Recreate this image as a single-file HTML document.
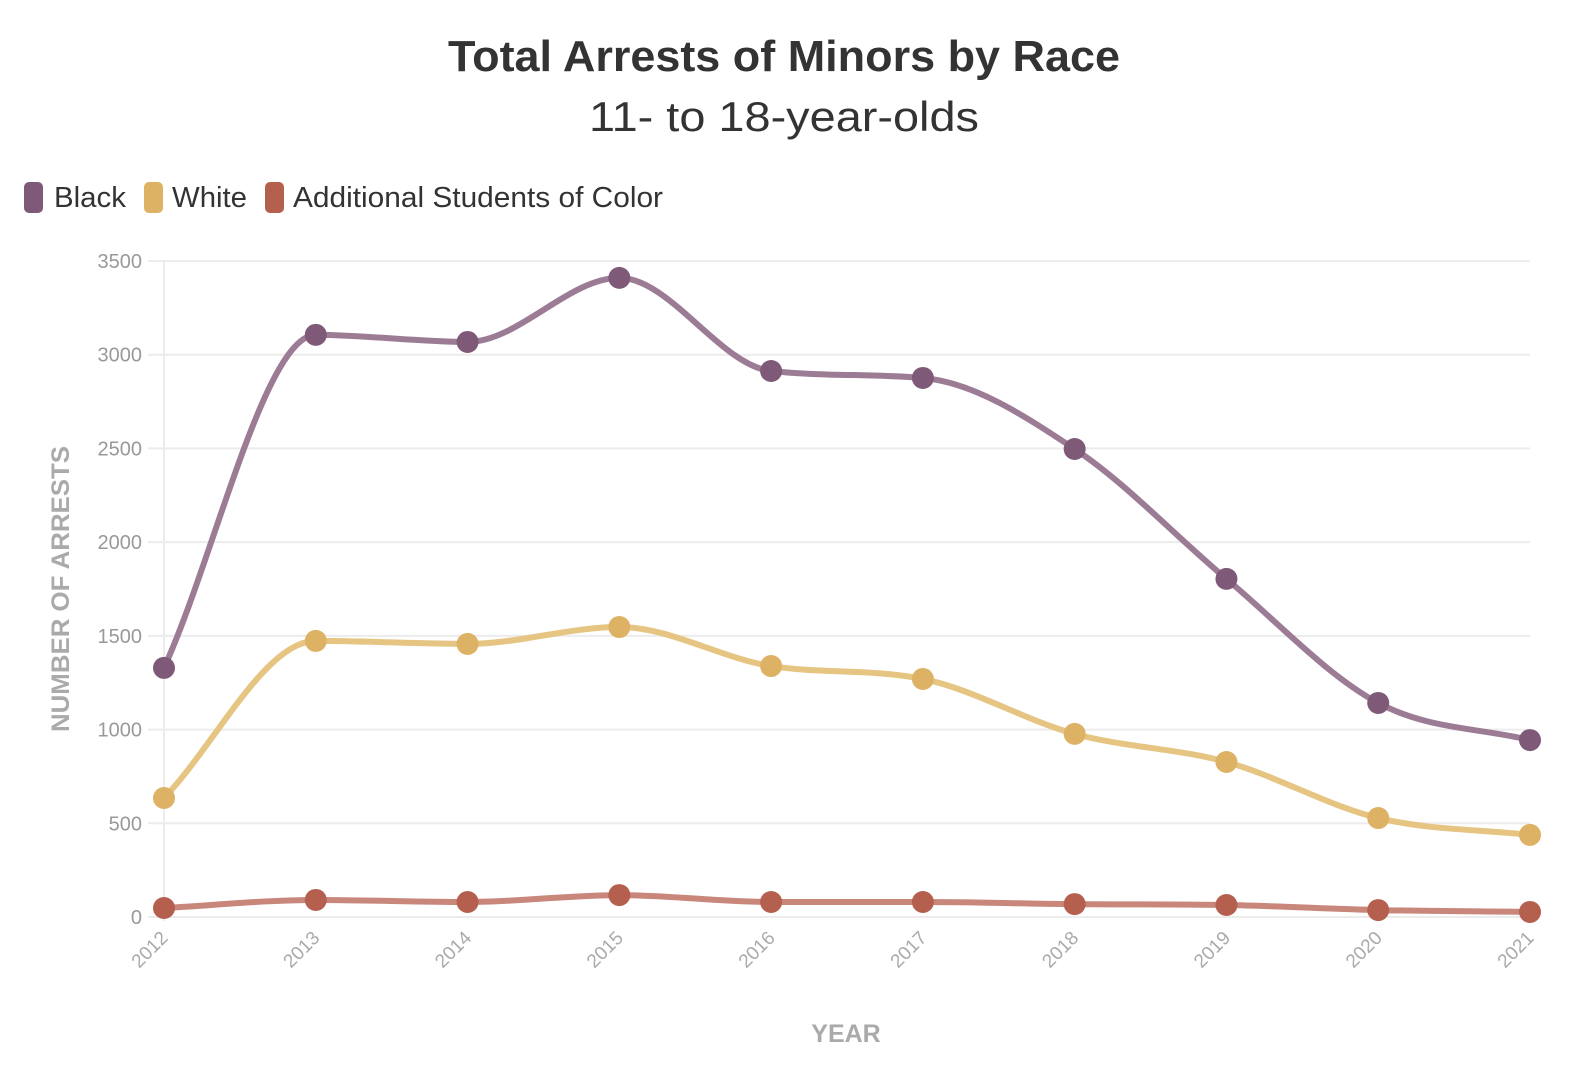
<!DOCTYPE html>
<html><head><meta charset="utf-8">
<style>
html,body{margin:0;padding:0;background:#fff;}
svg{display:block;font-family:"Liberation Sans",sans-serif;}
</style></head>
<body>
<svg id="chart" width="1592" height="1082" viewBox="0 0 1592 1082">
<text x="784" y="71" text-anchor="middle" font-size="44" font-weight="bold" fill="#333" textLength="672" lengthAdjust="spacingAndGlyphs">Total Arrests of Minors by Race</text>
<text x="784" y="131" text-anchor="middle" font-size="42" fill="#333" textLength="390" lengthAdjust="spacingAndGlyphs">11- to 18-year-olds</text>
<g>
<g><rect x="24" y="182" width="19" height="31" rx="5" fill="#7f5a78"/><text x="54" y="207" font-size="29" fill="#333" textLength="72" lengthAdjust="spacingAndGlyphs">Black</text></g>
<g><rect x="144" y="182" width="19" height="31" rx="5" fill="#deb264"/><text x="172" y="207" font-size="29" fill="#333" textLength="75" lengthAdjust="spacingAndGlyphs">White</text></g>
<g><rect x="265" y="182" width="19" height="31" rx="5" fill="#b5604f"/><text x="293" y="207" font-size="29" fill="#333" textLength="370" lengthAdjust="spacingAndGlyphs">Additional Students of Color</text></g>
</g>
<g id="grid"></g>
<g id="series"></g>
<text transform="translate(69,589) rotate(-90)" text-anchor="middle" font-size="25" font-weight="bold" fill="#aaa" textLength="286" lengthAdjust="spacingAndGlyphs">NUMBER OF ARRESTS</text>
<text x="846" y="1042" text-anchor="middle" font-size="25" font-weight="bold" fill="#aaa">YEAR</text>
</svg>
<script>
const years = [2012,2013,2014,2015,2016,2017,2018,2019,2020,2021];
const black = [1329,3106,3068,3410,2913,2876,2497,1804,1142,944];
const white = [635,1473,1457,1547,1339,1270,977,827,528,438];
const additional = [48,91,80,117,80,80,69,64,37,27];
const yTicks = [0,500,1000,1500,2000,2500,3000,3500];

const NS="http://www.w3.org/2000/svg";
const x0=164,x1=1530,y0=917,y1=261,yMax=3500;
const xs=i=>x0+(x1-x0)*i/(years.length-1);
const ys=v=>y0-(y0-y1)*v/yMax;
function mk(t,a,p){const e=document.createElementNS(NS,t);for(const k in a)e.setAttribute(k,a[k]);p.appendChild(e);return e;}
const grid=document.getElementById('grid');
yTicks.forEach(t=>{
  const l=mk('line',{x1:148,x2:x1,y1:ys(t),y2:ys(t),stroke:'#ececec','stroke-width':2},grid);
  
  
  const tx=mk('text',{x:142,y:ys(t)+7,'text-anchor':'end','font-size':20,fill:'#999'},grid);
  tx.textContent=t;
  
  
});
mk('line',{x1:x0,x2:x0,y1:y1,y2:y0+4,stroke:'#ececec','stroke-width':2},grid);
years.forEach((yr,i)=>{
  const tx=mk('text',{transform:`translate(${xs(i)+5},${y0+22}) rotate(-45)`,'text-anchor':'end','font-size':19,fill:'#aaa'},grid);
  tx.textContent=yr;
  
  
});
function monotonePath(pts){
  const n=pts.length,d=[],m=[];
  for(let i=0;i<n-1;i++)d.push((pts[i+1][1]-pts[i][1])/(pts[i+1][0]-pts[i][0]));
  for(let i=0;i<n;i++){
    if(i===0)m.push(d[0]);else if(i===n-1)m.push(d[n-2]);
    else m.push(d[i-1]*d[i]<=0?0:(d[i-1]+d[i])/2);
  }
  for(let i=0;i<n-1;i++){
    if(d[i]===0){m[i]=0;m[i+1]=0;continue;}
    const a=m[i]/d[i],b=m[i+1]/d[i],s=a*a+b*b;
    if(s>9){const t=3/Math.sqrt(s);m[i]=t*a*d[i];m[i+1]=t*b*d[i];}
  }
  let p=`M${pts[0][0]},${pts[0][1]}`;
  for(let i=0;i<n-1;i++){
    const h=(pts[i+1][0]-pts[i][0])/3;
    p+=` C${pts[i][0]+h},${pts[i][1]+m[i]*h} ${pts[i+1][0]-h},${pts[i+1][1]-m[i+1]*h} ${pts[i+1][0]},${pts[i+1][1]}`;
  }
  return p;
}
const ser=document.getElementById('series');
[[additional,'#c8877a','#b5604f','additional'],[white,'#e6c482','#deb264','white'],[black,'#9c7c95','#7f5a78','black']].forEach(([vals,lc,dc,nm])=>{
  const g=mk('g',{},ser);
  
  
  const pts=vals.map((v,i)=>[xs(i),ys(v)]);
  const path=mk('path',{d:monotonePath(pts),fill:'none',stroke:lc,'stroke-width':6},g);
  
  
  pts.forEach((p,i)=>{
    const c=mk('circle',{cx:p[0],cy:p[1],r:11,fill:dc},g);
    
    
  });
});
</script>
</body></html>
